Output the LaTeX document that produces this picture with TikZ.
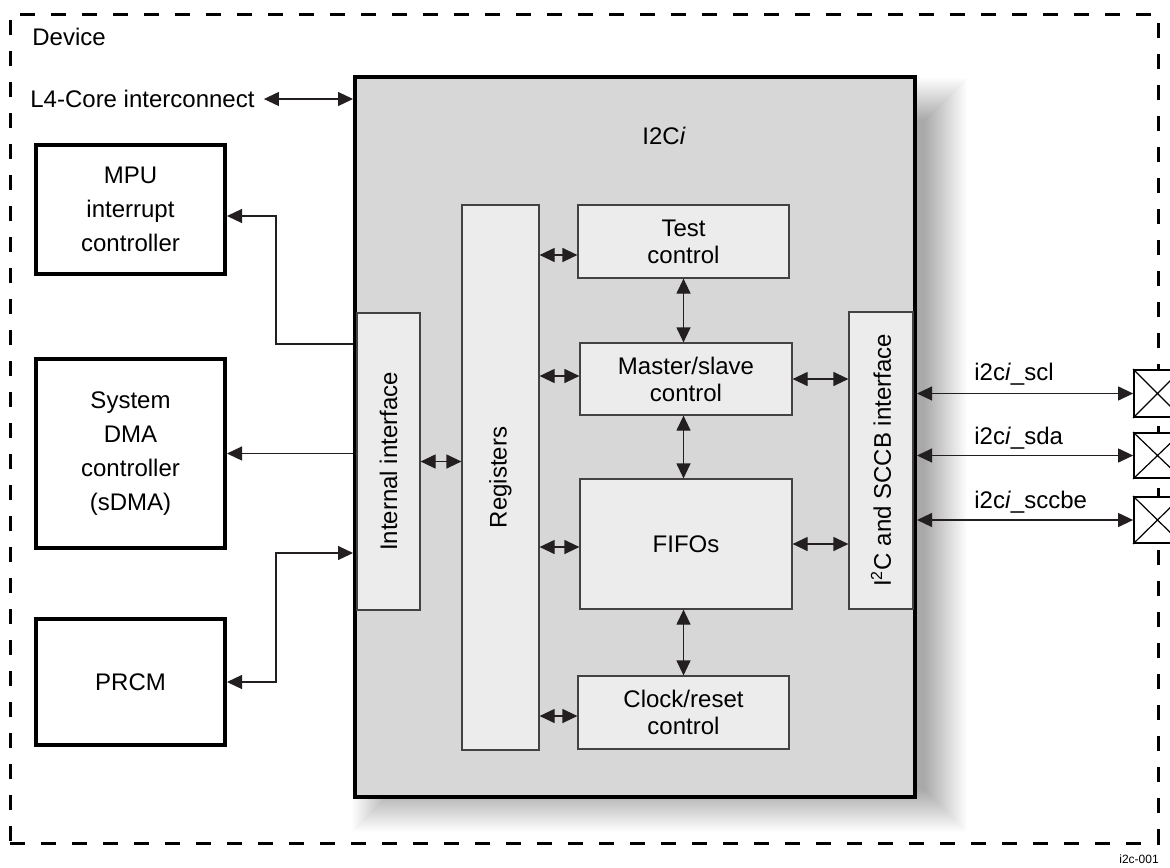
\documentclass[tikz,border=0pt]{standalone}
\usepackage{fontspec}
\setmainfont{Liberation Sans}
\usetikzlibrary{arrows.meta,fit}
\definecolor{ink}{HTML}{231F20}
\definecolor{chipfill}{HTML}{D7D7D7}
\definecolor{blkfill}{HTML}{ECECEC}
\begin{document}
\begin{tikzpicture}[x=0.5pt,y=-0.5pt,
  font=\fontsize{12}{13.5}\selectfont,
  >={Triangle[length=7.5pt,width=7pt]},
  conn/.style={line width=0.6pt, draw=ink},
  outerbox/.style={draw=black, line width=2pt, fill=white, inner sep=0pt, align=center, minimum width=94.5pt, font=\fontsize{12}{17}\selectfont},
  chipbox/.style={draw=black, line width=2pt, fill=chipfill, inner sep=0pt},
  blk/.style={draw=ink!85, line width=0.6pt, fill=blkfill, inner sep=0pt, align=center},
  pinbox/.style={draw=black, line width=0.9pt, fill=white, inner sep=0pt},
  devbox/.style={draw=black, line width=1.5pt, dash pattern=on 7.5pt off 8pt, inner sep=0pt},
  lbl/.style={inner sep=0pt, text=black}
]
\useasboundingbox (0,0) rectangle (1170,867);
\clip (0,0) rectangle (1170,867);
\fill[white] (0,0) rectangle (1170,867);

% device frame
\node[devbox, fit={(10,14) (1158,843)}] (dev) {};
\node[lbl, anchor=west] (devlbl) at (32,37) {Device};

% soft shadow of the I2C block
\foreach \e in {-20,...,22}{
  \fill[black, opacity=0.009] (374-\e,100-\e) rectangle (945+\e,810+\e);
}

% I2C block
\node[chipbox, fit={(355,77) (915,797)}] (i2c) {};
\node[lbl] (title) at (664,136) {I2C\textit{i}};

% external blocks
\node[outerbox, minimum height=64.5pt] (mpu) at (130.5,209.5) {MPU\\interrupt\\controller};
\node[outerbox, minimum height=94.5pt] (dma) at (130.5,453.5) {System\\DMA\\controller\\(sDMA)};
\node[outerbox, minimum height=63pt] (prcm) at (130.5,682) {PRCM};

% internal blocks
\node[blk, fit={(357,313) (420,610)}] (intf) {};
\node[lbl, rotate=90] (intflbl) at (intf.center) {Internal interface};
\node[blk, fit={(462,205) (539,750)}] (reg) {};
\node[lbl, rotate=90] (reglbl) at (reg.center) {Registers};
\node[blk, minimum width=105.5pt, minimum height=36.5pt] (test) at (683.5,241.5) {Test\\control};
\node[blk, minimum width=106pt, minimum height=36pt] (master) at (686,379) {Master/slave\\control};
\node[blk, minimum width=106pt, minimum height=65pt] (fifo) at (686,544) {FIFOs};
\node[blk, minimum width=105.5pt, minimum height=36.5pt] (clock) at (683.5,712.5) {Clock/reset\\control};
\node[blk, fit={(849,312) (913,609)}] (sccb) {};
\node[lbl, rotate=90] (sccblbl) at (sccb.center) {I\textsuperscript{2}C and SCCB interface};

% pins
\node[pinbox, fit={(1134,370) (1181,417)}] (pin1) {};
\node[pinbox, fit={(1134,433) (1181,478)}] (pin2) {};
\node[pinbox, fit={(1134,497) (1181,543)}] (pin3) {};
\foreach \p in {pin1,pin2,pin3}{
  \draw[line width=0.6pt] (\p.north west) -- (\p.south east) (\p.south west) -- (\p.north east);
}

% L4 interconnect
\node[lbl, anchor=west] (l4) at (30,99) {L4-Core interconnect};
\draw[conn,<->] ([xshift=4.5pt]l4.east) -- (l4.east -| i2c.west);

% external connectors
\coordinate (k1) at (276,344);
\draw[conn,->] (k1 -| i2c.west) -- (k1) |- (mpu.east |- 0,216);
\draw[conn,->] (dma.east -| i2c.west) -- (dma.east);
\coordinate (k2) at (276,553);
\draw[conn,<->] (prcm.east) -| (k2) -- (k2 -| i2c.west);

% internal connectors
\draw[conn,<->] (intf.east) -- (intf.east -| reg.west);
\draw[conn,<->] (reg.east |- 0,255) -- (test.west |- 0,255);
\draw[conn,<->] (reg.east |- 0,376) -- (master.west |- 0,376);
\draw[conn,<->] (reg.east |- 0,547) -- (fifo.west |- 0,547);
\draw[conn,<->] (reg.east |- 0,716) -- (clock.west |- 0,716);
\draw[conn,<->] (test.south) -- (test.south |- master.north);
\draw[conn,<->] (test.south |- master.south) -- (test.south |- fifo.north);
\draw[conn,<->] (test.south |- fifo.south) -- (test.south |- clock.north);
\draw[conn,<->] (master.east) -- (master.east -| sccb.west);
\draw[conn,<->] (fifo.east) -- (fifo.east -| sccb.west);

% pin connectors
\draw[conn,<->] (pin1.west -| i2c.east) -- (pin1.west);
\draw[conn,<->] (pin2.west -| i2c.east) -- (pin2.west);
\draw[conn,<->] (pin3.west -| i2c.east) -- (pin3.west);
\node[lbl, anchor=west] (scl) at (974,374) {i2c\textit{i}\_scl};
\node[lbl, anchor=west] (sda) at (974,438) {i2c\textit{i}\_sda};
\node[lbl, anchor=west] (sccbe) at (974,502) {i2c\textit{i}\_sccbe};

\node[lbl, font=\fontsize{6}{7}\selectfont] (fig) at (1139,859) {i2c-001};
\end{tikzpicture}
\end{document}
